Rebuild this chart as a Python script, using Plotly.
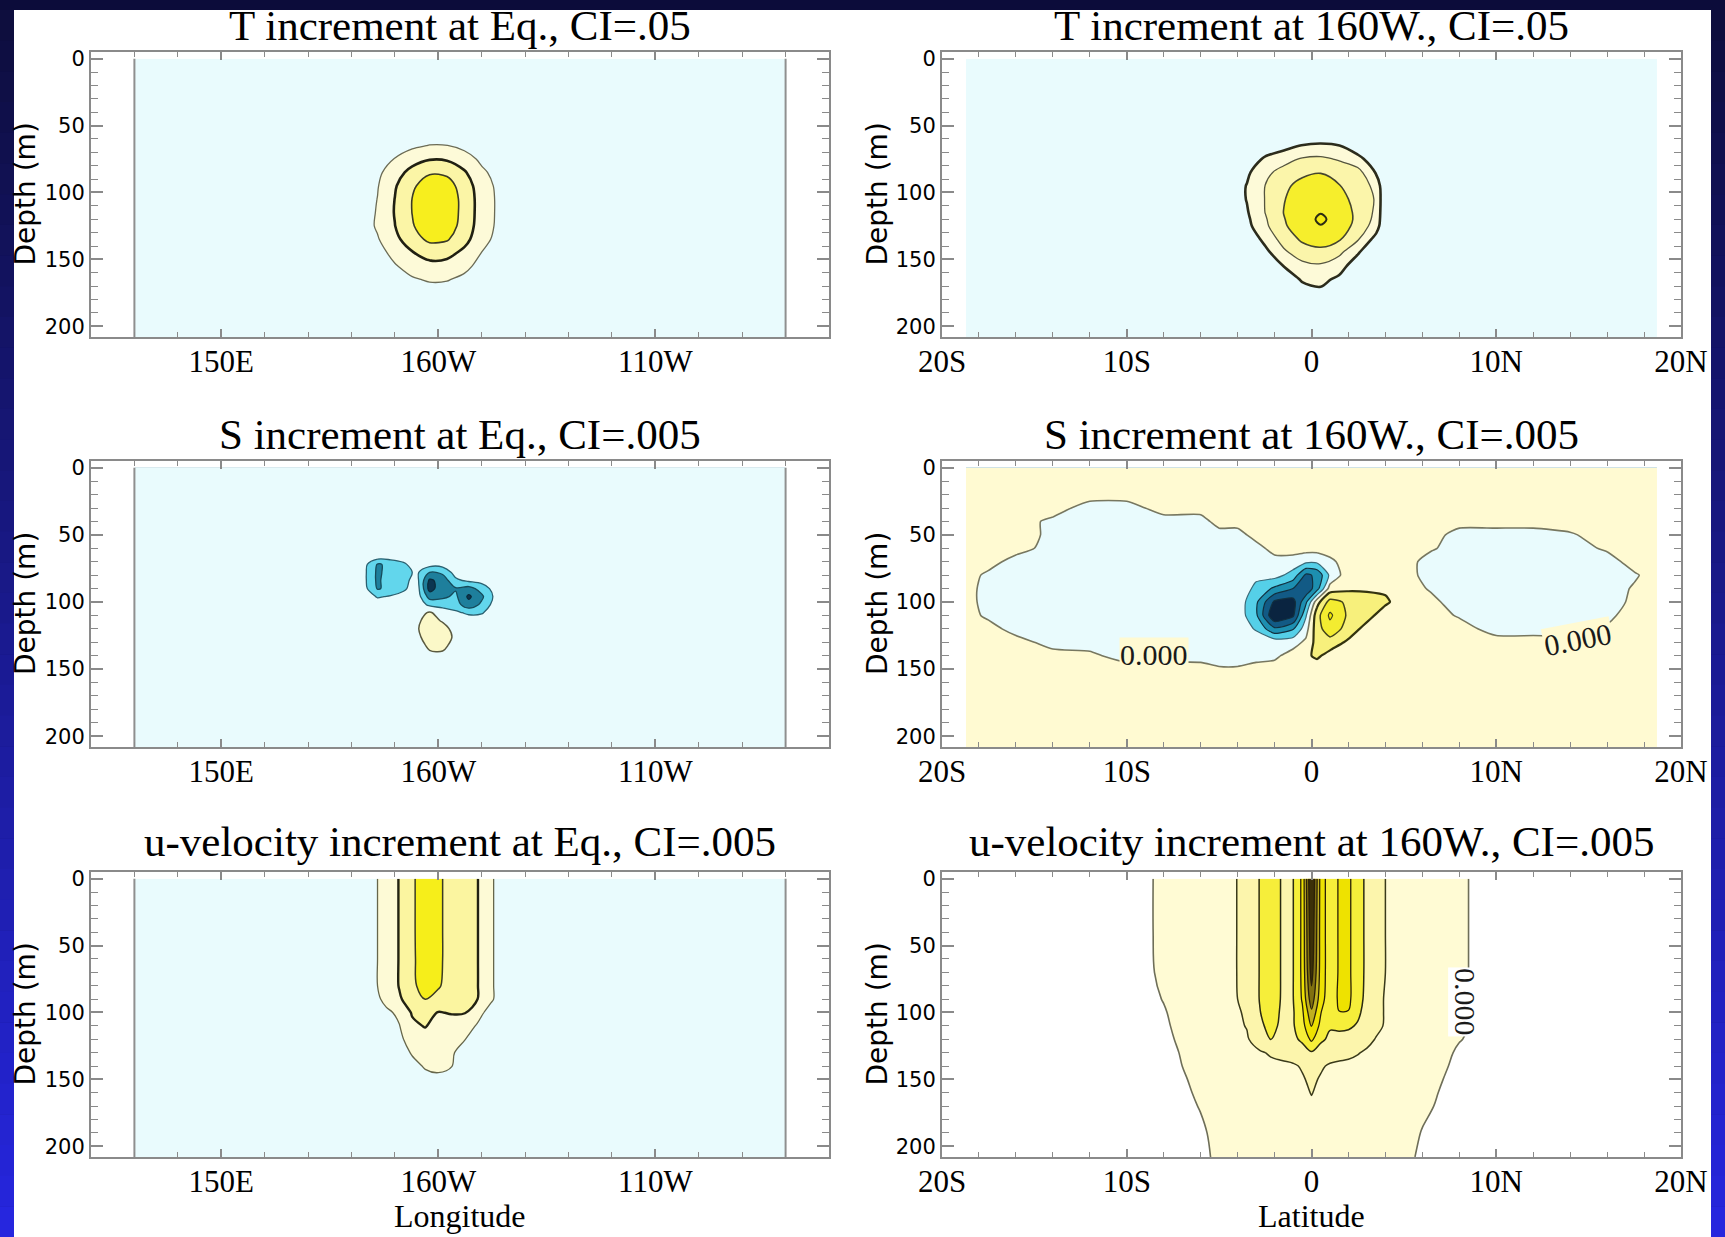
import plotly.graph_objects as go

W, H = 1725, 1237

# ---------------- axis ticks ----------------
LON_TICKVALS = [150, 200, 250]
LON_TICKTEXT = ["150E", "160W", "110W"]
LAT_TICKVALS = [-20, -10, 0, 10, 20]
LAT_TICKTEXT = ["20S", "10S", "0", "10N", "20N"]
DEPTH_TICKVALS = [0, 50, 100, 150, 200]

TITLES = [
    "T increment at Eq., CI=.05",
    "T increment at 160W., CI=.05",
    "S increment at Eq., CI=.005",
    "S increment at 160W., CI=.005",
    "u-velocity increment at Eq., CI=.005",
    "u-velocity increment at 160W., CI=.005",
]

# ---------------- T increment along the equator (units: 0.01 degC) ----------------
T_EQ_LON = [130, 176, 182, 186, 190, 194, 198, 202, 206, 210, 214, 220, 280]
T_EQ_DEPTH = [0, 40, 55, 65, 75, 85, 95, 105, 115, 125, 135, 145, 155, 165, 175, 190, 208]
T_EQ = [
    [0, 0, 0, 0, 0, 0, 0, 0, 0, 0, 0, 0, 0],
    [0, 0, 0, 0, 0, 0, 0, 0, 0, 0, 0, 0, 0],
    [0, 0, 0.2, 0.4, 0.8, 1.2, 1.5, 1.5, 1.1, 0.6, 0.3, 0, 0],
    [0, 0, 0.6, 1.4, 2.7, 4.1, 5.2, 5.1, 3.7, 2.1, 1.1, 0, 0],
    [0, 0, 1.1, 2.6, 5.2, 7.9, 9.7, 9.4, 7.1, 4.0, 2.1, 0, 0],
    [0, 0, 1.6, 3.9, 7.8, 11.7, 14.5, 14.1, 10.6, 5.9, 3.2, 0, 0],
    [0, 0, 1.9, 4.7, 9.5, 14.2, 17.5, 17.0, 12.8, 7.2, 3.9, 0, 0],
    [0, 0, 2.0, 5.1, 10.1, 15.1, 18.5, 17.9, 13.5, 7.6, 4.1, 0, 0],
    [0, 0, 2.2, 5.4, 10.3, 15.1, 18.5, 17.9, 13.5, 7.6, 4.1, 0, 0],
    [0, 0, 2.4, 5.6, 9.9, 14.6, 18.0, 17.5, 13.1, 7.4, 4.0, 0, 0],
    [0, 0, 1.8, 4.6, 8.6, 13.0, 16.0, 15.5, 11.7, 6.6, 3.5, 0, 0],
    [0, 0, 1.3, 3.2, 6.5, 9.7, 12.0, 11.6, 8.8, 4.9, 2.6, 0, 0],
    [0, 0, 0.9, 2.3, 4.6, 6.9, 8.5, 8.2, 6.2, 3.5, 1.9, 0, 0],
    [0, 0, 0.6, 1.5, 3.0, 4.5, 5.5, 5.3, 4.0, 2.3, 1.2, 0, 0],
    [0, 0, 0.3, 0.8, 1.6, 2.4, 3.0, 2.9, 2.2, 1.2, 0.7, 0, 0],
    [0, 0, 0.1, 0.1, 0.3, 0.4, 0.5, 0.5, 0.4, 0.2, 0.1, 0, 0],
    [0, 0, 0, 0, 0, 0, 0, 0, 0, 0, 0, 0, 0],
]

# ---------------- T increment along 160W (units: 0.01 degC) ----------------
T_160_LAT = [-18.7, -6, -4.5, -3.5, -2.5, -1.5, -0.5, 0.5, 1.5, 2.5, 3.5, 4.0, 6, 18.7]
T_160_DEPTH = [0, 45, 55, 65, 75, 85, 95, 105, 115, 120, 125, 135, 145, 155, 165, 175, 190, 208]
T_160 = [
    [0, 0, 0, 0, 0, 0, 0, 0, 0, 0, 0, 0, 0, 0],
    [0, 0, 0, 0, 0, 0, 0, 0, 0, 0, 0, 0, 0, 0],
    [0, 0, 0, 0, 0, 0.5, 2.0, 2.5, 1.5, 0.5, 0, 0, 0, 0],
    [0, 0, 0, 0, 1.0, 3.0, 5.2, 5.5, 5.1, 2.0, 0, 0, 0, 0],
    [0, 0, 0, 1.0, 6.0, 8.5, 10.5, 11.0, 9.5, 6.5, 2.0, 0, 0, 0],
    [0, 0, 1.0, 4.0, 9.0, 11.5, 14.0, 14.8, 13.0, 12.0, 4.5, 0, 0, 0],
    [0, 0, 1.5, 5.2, 10.1, 14.0, 16.5, 17.5, 15.2, 13.0, 8.5, 0, 0, 0],
    [0, 0, 1.5, 5.2, 10.2, 14.8, 17.0, 18.5, 16.5, 13.5, 9.5, 0, 0, 0],
    [0, 0, 0.5, 4.5, 10.1, 15.1, 17.5, 19.8, 17.5, 14.0, 9.0, 0, 0, 0],
    [0, 0, 0.3, 4.0, 9.5, 14.8, 17.5, 21.0, 17.8, 14.0, 8.5, 0, 0, 0],
    [0, 0, 0, 3.5, 9.0, 14.5, 17.2, 19.8, 17.5, 13.5, 7.5, 0, 0, 0],
    [0, 0, 0, 1.0, 6.5, 12.0, 15.8, 17.2, 15.5, 10.5, 3.0, 0, 0, 0],
    [0, 0, 0, 0, 3.5, 9.0, 12.5, 13.5, 11.0, 5.5, 0, 0, 0, 0],
    [0, 0, 0, 0, 1.0, 5.1, 8.5, 9.2, 7.0, 2.0, 0, 0, 0, 0],
    [0, 0, 0, 0, 0, 2.0, 5.5, 6.2, 4.0, 0, 0, 0, 0, 0],
    [0, 0, 0, 0, 0, 0.5, 3.0, 4.0, 2.0, 0, 0, 0, 0, 0],
    [0, 0, 0, 0, 0, 0, 0, 0, 0, 0, 0, 0, 0, 0],
    [0, 0, 0, 0, 0, 0, 0, 0, 0, 0, 0, 0, 0, 0],
]

# ---------------- S increment along the equator (units: 0.001 psu) ----------------
S_EQ_LON = [130, 180, 183, 186, 189, 192, 195, 198, 201, 204, 207, 210, 213, 220, 280]
S_EQ_DEPTH = [0, 60, 66, 72, 78, 84, 90, 96, 102, 108, 114, 120, 126, 132, 138, 144, 208]
S_EQ = [
    [-2, -2, -2, -2, -2, -2, -2, -2, -2, -2, -2, -2, -2, -2, -2],
    [-2, -2, -2, -2, -2, -2, -2, -2, -2, -2, -2, -2, -2, -2, -2],
    [-2, -2, -2, -2, -2, -2, -2, -2, -2, -2, -2, -2, -2, -2, -2],
    [-2, -2, -3.5, -10.5, -9, -6, -2, -3, -3, -2, -2, -2, -2, -2, -2],
    [-2, -2, -4, -11, -8, -7, -4, -10, -9, -3, -2, -2, -2, -2, -2],
    [-2, -2, -4, -11, -7, -6.5, -3, -16, -13, -6, -4, -3, -2, -2, -2],
    [-2, -2, -3.5, -10.5, -8.5, -6, -2, -17, -12, -10.5, -12, -8, -3, -2, -2],
    [-2, -2, -2, -5.5, -4.5, -3, -2, -12, -11, -9, -16, -11, -4, -2, -2],
    [-2, -2, -2, -2, -2, -2, -2, -6, -7, -8, -13, -9, -3, -2, -2],
    [-2, -2, -2, -2, -2, -2, -2, 0.5, -2, -4, -6, -5.5, -2, -2, -2],
    [-2, -2, -2, -2, -2, -2, -1, 2, -0.5, -2, -2, -2, -2, -2, -2],
    [-2, -2, -2, -2, -2, -2, -0.5, 2.5, 2, -2, -2, -2, -2, -2, -2],
    [-2, -2, -2, -2, -2, -2, -1, 2, 2.5, -1, -2, -2, -2, -2, -2],
    [-2, -2, -2, -2, -2, -2, -2, 1, 1.5, -2, -2, -2, -2, -2, -2],
    [-2, -2, -2, -2, -2, -2, -2, -0.5, -0.5, -2, -2, -2, -2, -2, -2],
    [-2, -2, -2, -2, -2, -2, -2, -2, -2, -2, -2, -2, -2, -2, -2],
    [-2, -2, -2, -2, -2, -2, -2, -2, -2, -2, -2, -2, -2, -2, -2],
]

# ---------------- S increment along 160W (units: 0.001 psu) ----------------
S_160_LAT = [-18.7, -17.5, -16, -14, -12, -10, -8, -6, -5, -4, -3, -2, -1, -0.3,
             0.3, 1, 2, 3, 4, 5, 6.5, 8, 10, 12, 14, 16, 17.5, 18.7]
S_160_DEPTH = [0, 20, 30, 40, 50, 60, 70, 80, 90, 100, 110, 120, 130, 140, 150, 160, 208]
S_160 = [
    [2, 2, 2, 2, 2, 2, 2, 2, 2, 2, 2, 2, 2, 2, 2, 2, 2, 2, 2, 2, 2, 2, 2, 2, 2, 2, 2, 2],
    [2, 2, 2, 2, 2, 2, 2, 2, 2, 2, 2, 2, 2, 2, 2, 2, 2, 2, 2, 2, 2, 2, 2, 2, 2, 2, 2, 2],
    [2, 2, 2, 2, -2, -2, 2, 2, 2, 2, 2, 2, 2, 2, 2, 2, 2, 2, 2, 2, 2, 2, 2, 2, 2, 2, 2, 2],
    [2, 2, 2, -1, -2, -2, -2, -2, 2, 2, 2, 2, 2, 2, 2, 2, 2, 2, 2, 2, 2, 2, 2, 2, 2, 2, 2, 2],
    [2, 2, 2, -1, -2, -2, -2, -2, -2, -2, 2, 2, 2, 2, 2, 2, 2, 2, 2, 2, 2, -2, -2, -2, -0.5, 2, 2, 2],
    [2, 2, 2, -2, -2, -2, -2, -2, -2, -2, -2, 2, 2, 2, 2, 2, 2, 2, 2, 2, 0.5, -2, -2, -2, -2, 0.7, 2, 2],
    [2, 2, -2, -2, -2, -2, -2, -2, -2, -2, -2, -2, -2, -4, -4, -1, 2, 2, 2, 2, -2, -2, -2, -2, -2, -2, 2, 2],
    [2, -1, -2, -2, -2, -2, -2, -2, -2, -2, -4, -3, -7, -16, -14, -4, 3, 2, 2, 2, -2, -2, -2, -2, -2, -2, -0.5, 2],
    [2, -2, -2, -2, -2, -2, -2, -2, -2, -2, -6, -11, -15, -19, -12, 2, 4, 4, 4, 2, -0.5, -2, -2, -2, -2, -2, 0.5, 2],
    [2, -2, -2, -2, -2, -2, -2, -2, -2, -2, -9, -21, -22, -11, 3, 12, 9, 8, 6, 2, 1, -2, -2, -2, -2, -2, 1, 2],
    [2, -1, -2, -2, -2, -2, -2, -2, -2, -2, -9, -25, -21, -5.5, 8, 16, 9, 7, 2, 2, 2, -0.5, -2, -2, -2, -1, 2, 2],
    [2, 2, -2, -2, -2, -2, -2, -2, -2, -2, -5.5, -14, -10.5, -2, 8, 13, 8, 3, 2, 2, 2, 2, -2, -2, -2, 0.5, 2, 2],
    [2, 2, 2, -2, -2, -2, -2, -2, -2, -2, -2, -2, -2, 1, 7, 8, 4, 2, 2, 2, 2, 2, 2, 2, 2, 2, 2, 2],
    [2, 2, 2, 2, 1, -2, -2, -2, -2, -2, -2, -1, 2, 4, 6, 3, 2, 2, 2, 2, 2, 2, 2, 2, 2, 2, 2, 2],
    [2, 2, 2, 2, 2, 2, 2, 2, 0.5, 0.5, 2, 2, 2, 2, 2, 2, 2, 2, 2, 2, 2, 2, 2, 2, 2, 2, 2, 2],
    [2, 2, 2, 2, 2, 2, 2, 2, 2, 2, 2, 2, 2, 2, 2, 2, 2, 2, 2, 2, 2, 2, 2, 2, 2, 2, 2, 2],
    [2, 2, 2, 2, 2, 2, 2, 2, 2, 2, 2, 2, 2, 2, 2, 2, 2, 2, 2, 2, 2, 2, 2, 2, 2, 2, 2, 2],
]
S_ZERO_LEVEL = 0.0
# contour labels on the zero line: (lat, depth, text angle)
S_160_ZERO_LABELS = [(-8.5, 139, 0), (14.4, 128, -11)]

# ---------------- u increment along the equator (units: 0.001 m/s) ----------------
U_EQ_LON = [130, 182, 185, 188, 191, 194, 197, 200, 203, 206, 209, 212, 215, 220, 280]
U_EQ_DEPTH = [0, 20, 40, 60, 80, 90, 100, 110, 120, 130, 140, 150, 160, 208]
U_EQ = [
    [1, 1, 4, 7, 10.2, 14, 18.5, 16, 13, 11.5, 10.2, 6, 2, 1, 1],
    [1, 1, 4, 7, 10.2, 14, 18.5, 16, 13, 11.5, 10.2, 6, 2, 1, 1],
    [1, 1, 4, 7, 10.2, 14, 18.5, 16, 13, 11.5, 10.2, 6, 2, 1, 1],
    [1, 1, 4, 7, 10.2, 14, 18, 16, 13, 11.5, 10.2, 6, 2, 1, 1],
    [1, 1, 4, 7, 10.2, 14, 17, 15.5, 13, 11.5, 10.2, 6, 2, 1, 1],
    [1, 1, 3, 6.5, 9.5, 12, 15.2, 13.5, 12, 11, 10.1, 6, 2, 1, 1],
    [1, 1, 2, 4, 6, 10.5, 11.5, 9.8, 10.3, 10.3, 7, 3, 1, 1, 1],
    [1, 1, 1.5, 3, 4.8, 9, 10.3, 8, 8, 7.5, 4.5, 2, 1, 1, 1],
    [1, 1, 1, 2, 4, 7, 8, 7.5, 6.5, 5.2, 2.5, 1, 1, 1, 1],
    [1, 1, 1, 1, 2.5, 5.5, 7, 6.5, 5.5, 3.5, 1.5, 1, 1, 1, 1],
    [1, 1, 1, 1, 1.5, 3.5, 5.5, 6, 5.2, 2.5, 1, 1, 1, 1, 1],
    [1, 1, 1, 1, 1, 2, 3.5, 4, 3, 1.5, 1, 1, 1, 1, 1],
    [1, 1, 1, 1, 1, 1, 2, 2, 1.5, 1, 1, 1, 1, 1, 1],
    [1, 1, 1, 1, 1, 1, 1, 1, 1, 1, 1, 1, 1, 1, 1],
]

# ---------------- u increment along 160W (units: 0.001 m/s) ----------------
U_160_LAT = [-18.7, -10, -8, -6, -4.5, -3.5, -2.8, -2.2, -1.6, -1.0, -0.5, 0,
             0.5, 1.0, 1.5, 2.0, 2.5, 3.0, 3.5, 4.5, 6, 8, 10, 18.7]
U_160_DEPTH = [0, 40, 70, 90, 100, 110, 120, 130, 140, 150, 160, 170, 190, 208]
U_160 = [
    [-3, -1.5, 0.6, 2.5, 4, 6.2, 10.2, 13.5, 9.5, 9.8, 16, 36, 18, 12, 15.5, 16, 12, 9, 6.5, 3.5, 2, 0.5, -1.5, -3],
    [-3, -1.5, 0.6, 2.5, 4, 6.2, 10.2, 13.5, 9.5, 9.8, 16, 34, 18, 12, 15.5, 16, 12, 9, 6.5, 3.5, 2, 0.5, -1.5, -3],
    [-3, -1.5, 0.5, 2.5, 4, 6.2, 10.2, 13.5, 9.5, 9.8, 16, 32, 18, 12, 15.5, 16, 12, 9, 6.5, 3.5, 2, 0.5, -1.5, -3],
    [-3, -1.5, 0.1, 2.4, 4, 6, 10.2, 13, 9.5, 9.8, 15.5, 28, 17, 12, 15.8, 16, 12, 8.5, 6, 3.5, 2, 0.5, -1.5, -3],
    [-3, -1.2, -0.2, 2, 3.8, 5.5, 9.8, 12.5, 9.2, 9.5, 14, 24, 15.2, 11.5, 14.9, 14.8, 11, 8, 6, 3.5, 2, 0.5, -1.5, -3],
    [-3, -1.0, -0.4, 1.8, 3.5, 5.2, 9, 11.5, 9, 9.5, 13, 20.5, 13.5, 10.5, 11, 10.8, 9.5, 7, 5.8, 3.6, 2, 0.5, -1.5, -3],
    [-3, -0.8, -0.6, 1.5, 3, 4.5, 7.5, 10.2, 8.5, 8.8, 11, 16, 11, 9, 8.5, 8, 7.5, 6, 4.8, 3.2, 1.8, 0.1, -1, -3],
    [-3, -1, -0.7, 1.0, 2.5, 3.5, 4.5, 5.5, 6, 6.5, 7.5, 9.5, 7.5, 6.5, 6, 5.8, 5.2, 4.5, 4, 3, 1.5, -0.3, -1.2, -3],
    [-3, -1.2, -0.8, 0.8, 2, 2.8, 3.5, 4, 4.3, 4.6, 5.3, 6.5, 5.4, 4.6, 4.4, 4.2, 4, 3.6, 3.2, 2.5, 1.2, -0.5, -1.2, -3],
    [-3, -1.3, -0.9, 0.5, 1.7, 2.4, 3, 3.4, 3.8, 4.2, 4.7, 5.6, 4.7, 4.2, 3.9, 3.7, 3.5, 3.2, 2.8, 2.1, 0.9, -0.7, -1.3, -3],
    [-3, -1.4, -1.0, 0.3, 1.4, 2, 2.6, 3, 3.4, 3.8, 4.4, 5.1, 4.4, 3.8, 3.5, 3.3, 3.1, 2.8, 2.4, 1.8, 0.6, -0.8, -1.4, -3],
    [-3, -1.5, -1.1, 0.1, 1.2, 1.8, 2.3, 2.7, 3.1, 3.5, 4, 4.6, 4, 3.5, 3.2, 3, 2.8, 2.5, 2.2, 1.6, 0.4, -0.9, -1.5, -3],
    [-3, -1.8, -1.2, -0.3, 1.0, 1.5, 2, 2.3, 2.6, 2.9, 3.2, 3.5, 3.2, 2.9, 2.6, 2.4, 2.2, 2, 1.8, 1.3, -0.1, -1, -1.8, -3],
    [-3, -2, -1.4, -0.5, 0.9, 1.3, 1.7, 2, 2.3, 2.6, 2.9, 3.2, 2.9, 2.6, 2.4, 2.2, 2, 1.8, 1.6, 1.1, -0.4, -1.2, -2, -3],
]
U_ZERO_LEVEL = 0.0
U_160_ZERO_LABELS = [(8.3, 92, 90)]

for grid, xs, ys in [(T_EQ, T_EQ_LON, T_EQ_DEPTH), (T_160, T_160_LAT, T_160_DEPTH),
                     (S_EQ, S_EQ_LON, S_EQ_DEPTH), (S_160, S_160_LAT, S_160_DEPTH),
                     (U_EQ, U_EQ_LON, U_EQ_DEPTH), (U_160, U_160_LAT, U_160_DEPTH)]:
    assert len(grid) == len(ys)
    assert all(len(r) == len(xs) for r in grid)

# ---------------- styling per panel ----------------
CYAN_BG = "#e9fbfd"
PANELS = [
    dict(x=T_EQ_LON, y=T_EQ_DEPTH, z=T_EQ, start=5, end=15, size=5, smooth=1.0,
         colors=[CYAN_BG, "#fdfad8", "#fbf5a6", "#f7ee1e"],
         lines=[(5, "#6b6b55", 1.3), (10, "#202012", 2.6), (15, "#3a3a26", 1.6)]),
    dict(x=T_160_LAT, y=T_160_DEPTH, z=T_160, start=5, end=20, size=5, smooth=1.0,
         colors=[CYAN_BG, "#fdfad8", "#fbf5aa", "#f6ee2c", "#f4ea10"],
         lines=[(5, "#2c2c1c", 2.6), (10, "#55553f", 1.3), (15, "#45452e", 1.6), (20, "#2c2c14", 2.0)]),
    dict(x=S_EQ_LON, y=S_EQ_DEPTH, z=S_EQ, start=-15, end=0, size=5, smooth=1.0,
         colors=["#0c3550", "#1e7f9c", "#62d6ec", CYAN_BG, "#fbf8c8"],
         lines=[(-15, "#0a2a3a", 1.2), (-10, "#164a5a", 1.3), (-5, "#2a6070", 1.3), (0, "#5a5a40", 1.5)]),
    dict(x=S_160_LAT, y=S_160_DEPTH, z=S_160, start=-20, end=15, size=5, smooth=0.6,
         colors=["#0a2440", "#125a85", "#1d8fb0", "#55d0e8", CYAN_BG, "#fffad2", "#f7f07c", "#f3ec30", "#f0e800"],
         lines=[(-20, "#12303f", 1.2), (-15, "#12303f", 1.2), (-10, "#12303f", 1.2), (-5, "#3a6a78", 1.2),
                (0, "#777760", 1.6), (5, "#33330f", 2.2), (10, "#44441a", 1.5), (15, "#44441a", 1.2)]),
    dict(x=U_EQ_LON, y=U_EQ_DEPTH, z=U_EQ, start=5, end=15, size=5, smooth=1.0,
         colors=[CYAN_BG, "#fdfad6", "#fbf5a0", "#f6ee1a"],
         lines=[(5, "#66664a", 1.3), (10, "#222212", 2.4), (15, "#3a3a22", 1.5)]),
    dict(x=U_160_LAT, y=U_160_DEPTH, z=U_160, start=0, end=30, size=5, smooth=1.0,
         colors=["#ffffff", "#fffbd4", "#fcf5ac", "#f6ee3a", "#eee200", "#c0b020", "#807010", "#3c3008"],
         lines=[(0, "#6e6e58", 1.6), (5, "#3a3a1a", 1.5), (10, "#2a2a10", 1.5), (15, "#2a2008", 1.3),
                (20, "#2a2008", 1.3), (25, "#2a2008", 1.3), (30, "#2a2008", 1.3)]),
]

# pixel layout of the 2x3 grid of plot boxes
COL_PX = [(91, 829), (942, 1681)]
ROW_PX = [(52, 337), (461, 747), (872, 1157)]
TITLE_Y_PX = [25, 434, 842]
YTITLE_X_PX = [25, 877]
XTITLE_Y_PX = 1216


def px_x(p):
    return p / W


def px_y(p):
    return 1 - p / H


fig = go.Figure()
GRAY = "#8a8a8a"

for k, p in enumerate(PANELS):
    idx = k + 1
    xa = "x" if idx == 1 else f"x{idx}"
    ya = "y" if idx == 1 else f"y{idx}"
    nc = int(round((p["end"] - p["start"]) / p["size"])) + 1
    cscale = [[i / nc, c] for i, c in enumerate(p["colors"])]
    fig.add_trace(go.Contour(
        x=p["x"], y=p["y"], z=p["z"], xaxis=xa, yaxis=ya,
        contours=dict(start=p["start"], end=p["end"], size=p["size"], coloring="fill", showlines=False),
        colorscale=cscale, showscale=False, hoverinfo="skip",
        line=dict(width=0, smoothing=p["smooth"]),
    ))
    for lvl, col, wid in p["lines"]:
        fig.add_trace(go.Contour(
            x=p["x"], y=p["y"], z=p["z"], xaxis=xa, yaxis=ya,
            contours=dict(start=lvl, end=lvl, size=p["size"], coloring="none"),
            showscale=False, hoverinfo="skip",
            line=dict(color=col, width=wid, smoothing=p["smooth"]),
        ))
    # outline of the longitude section edges
    if k % 2 == 0:
        xs, ys = p["x"], p["y"]
        fig.add_trace(go.Scatter(
            x=[xs[0], xs[0], None, xs[-1], xs[-1]],
            y=[ys[0], ys[-1], None, ys[0], ys[-1]],
            mode="lines", line=dict(color="#8f8f8f", width=2),
            xaxis=xa, yaxis=ya, hoverinfo="skip", showlegend=False,
        ))

layout = dict(
    width=W, height=H, margin=dict(l=0, r=0, t=0, b=0, pad=0, autoexpand=False),
    paper_bgcolor="rgb(12,12,58)", plot_bgcolor="white", showlegend=False,
)

tick_x_font = dict(family="Liberation Serif", size=31, color="black")
tick_y_font = dict(family="DejaVu Sans", size=21, color="black")

for k in range(6):
    idx = k + 1
    row, col = divmod(k, 2)
    xname = "xaxis" if idx == 1 else f"xaxis{idx}"
    yname = "yaxis" if idx == 1 else f"yaxis{idx}"
    xanchor = "y" if idx == 1 else f"y{idx}"
    yanchor = "x" if idx == 1 else f"x{idx}"
    x0, x1 = COL_PX[col]
    y0, y1 = ROW_PX[row]
    if col == 0:
        xr, tv, tt, mdt = [120, 290], LON_TICKVALS, LON_TICKTEXT, 10
    else:
        xr, tv, tt, mdt = [-20, 20], LAT_TICKVALS, LAT_TICKTEXT, 2
    layout[xname] = dict(
        domain=[px_x(x0), px_x(x1)], anchor=xanchor, range=xr, automargin=False,
        tickmode="array", tickvals=tv, ticktext=tt,
        ticks="inside", ticklen=8, tickwidth=1.5, tickcolor=GRAY,
        minor=dict(tickmode="linear", tick0=0, dtick=mdt, ticks="inside", ticklen=5,
                   tickwidth=1, tickcolor=GRAY, showgrid=False),
        showline=True, linecolor=GRAY, linewidth=2, mirror="ticks",
        showgrid=False, zeroline=False, tickfont=tick_x_font, ticklabelstandoff=-4,
    )
    layout[yname] = dict(
        domain=[px_y(y1), px_y(y0)], anchor=yanchor, range=[208, -5], automargin=False,
        tickmode="array", tickvals=DEPTH_TICKVALS,
        ticks="inside", ticklen=12, tickwidth=1.5, tickcolor=GRAY,
        minor=dict(tickmode="linear", tick0=0, dtick=10, ticks="inside", ticklen=7,
                   tickwidth=1, tickcolor=GRAY, showgrid=False),
        showline=True, linecolor=GRAY, linewidth=2, mirror="ticks",
        showgrid=False, zeroline=False, tickfont=tick_y_font,
    )

annotations = []
for k, title in enumerate(TITLES):
    row, col = divmod(k, 2)
    cx = sum(COL_PX[col]) / 2
    annotations.append(dict(
        text=title, x=px_x(cx), y=px_y(TITLE_Y_PX[row]), xref="paper", yref="paper",
        xanchor="center", yanchor="middle", showarrow=False,
        font=dict(family="Liberation Serif", size=43, color="black"),
    ))
    annotations.append(dict(
        text="Depth (m)", x=px_x(YTITLE_X_PX[col]), y=px_y(sum(ROW_PX[row]) / 2),
        xref="paper", yref="paper", xanchor="center", yanchor="middle",
        textangle=-90, showarrow=False,
        font=dict(family="DejaVu Sans", size=28, color="black"),
    ))
for col, name in enumerate(["Longitude", "Latitude"]):
    annotations.append(dict(
        text=name, x=px_x(sum(COL_PX[col]) / 2), y=px_y(XTITLE_Y_PX), xref="paper", yref="paper",
        xanchor="center", yanchor="middle", showarrow=False, borderpad=0,
        font=dict(family="Liberation Serif", size=32, color="black"),
    ))

# zero-contour labels
for (lat, dep, ang) in S_160_ZERO_LABELS:
    annotations.append(dict(
        text=f"{S_ZERO_LEVEL:.3f}", x=lat, y=dep, xref="x4", yref="y4", textangle=ang,
        showarrow=False, bgcolor="#fffad2", borderpad=0,
        font=dict(family="Liberation Serif", size=30, color="#1a1a1a"),
    ))
for (lat, dep, ang) in U_160_ZERO_LABELS:
    annotations.append(dict(
        text=f"{U_ZERO_LEVEL:.3f}", x=lat, y=dep, xref="x6", yref="y6", textangle=ang,
        showarrow=False, bgcolor="#ffffff", borderpad=0,
        font=dict(family="Liberation Serif", size=30, color="#1a1a1a"),
    ))
layout["annotations"] = annotations

# white page inside a blue frame (frame sides fade from navy to blue)
shapes = [dict(type="rect", xref="paper", yref="paper", x0=px_x(14), x1=px_x(1711),
               y0=0, y1=px_y(10), fillcolor="white", line=dict(width=0), layer="below")]
N_BANDS = 40
for i in range(N_BANDS):
    t = i / (N_BANDS - 1)
    r = int(14 + t * (38 - 14))
    b = int(62 + t * (222 - 62))
    yt = 10 + (H - 10) * i / N_BANDS
    yb = 10 + (H - 10) * (i + 1) / N_BANDS
    for (xa0, xa1) in [(0, 14), (1711, W)]:
        shapes.append(dict(type="rect", xref="paper", yref="paper",
                           x0=px_x(xa0), x1=px_x(xa1), y0=px_y(yb + 0.5), y1=px_y(yt),
                           fillcolor=f"rgb({r},{r},{b})", line=dict(width=0), layer="below"))
layout["shapes"] = shapes

fig.update_layout(**layout)
fig.write_html("out.html")
